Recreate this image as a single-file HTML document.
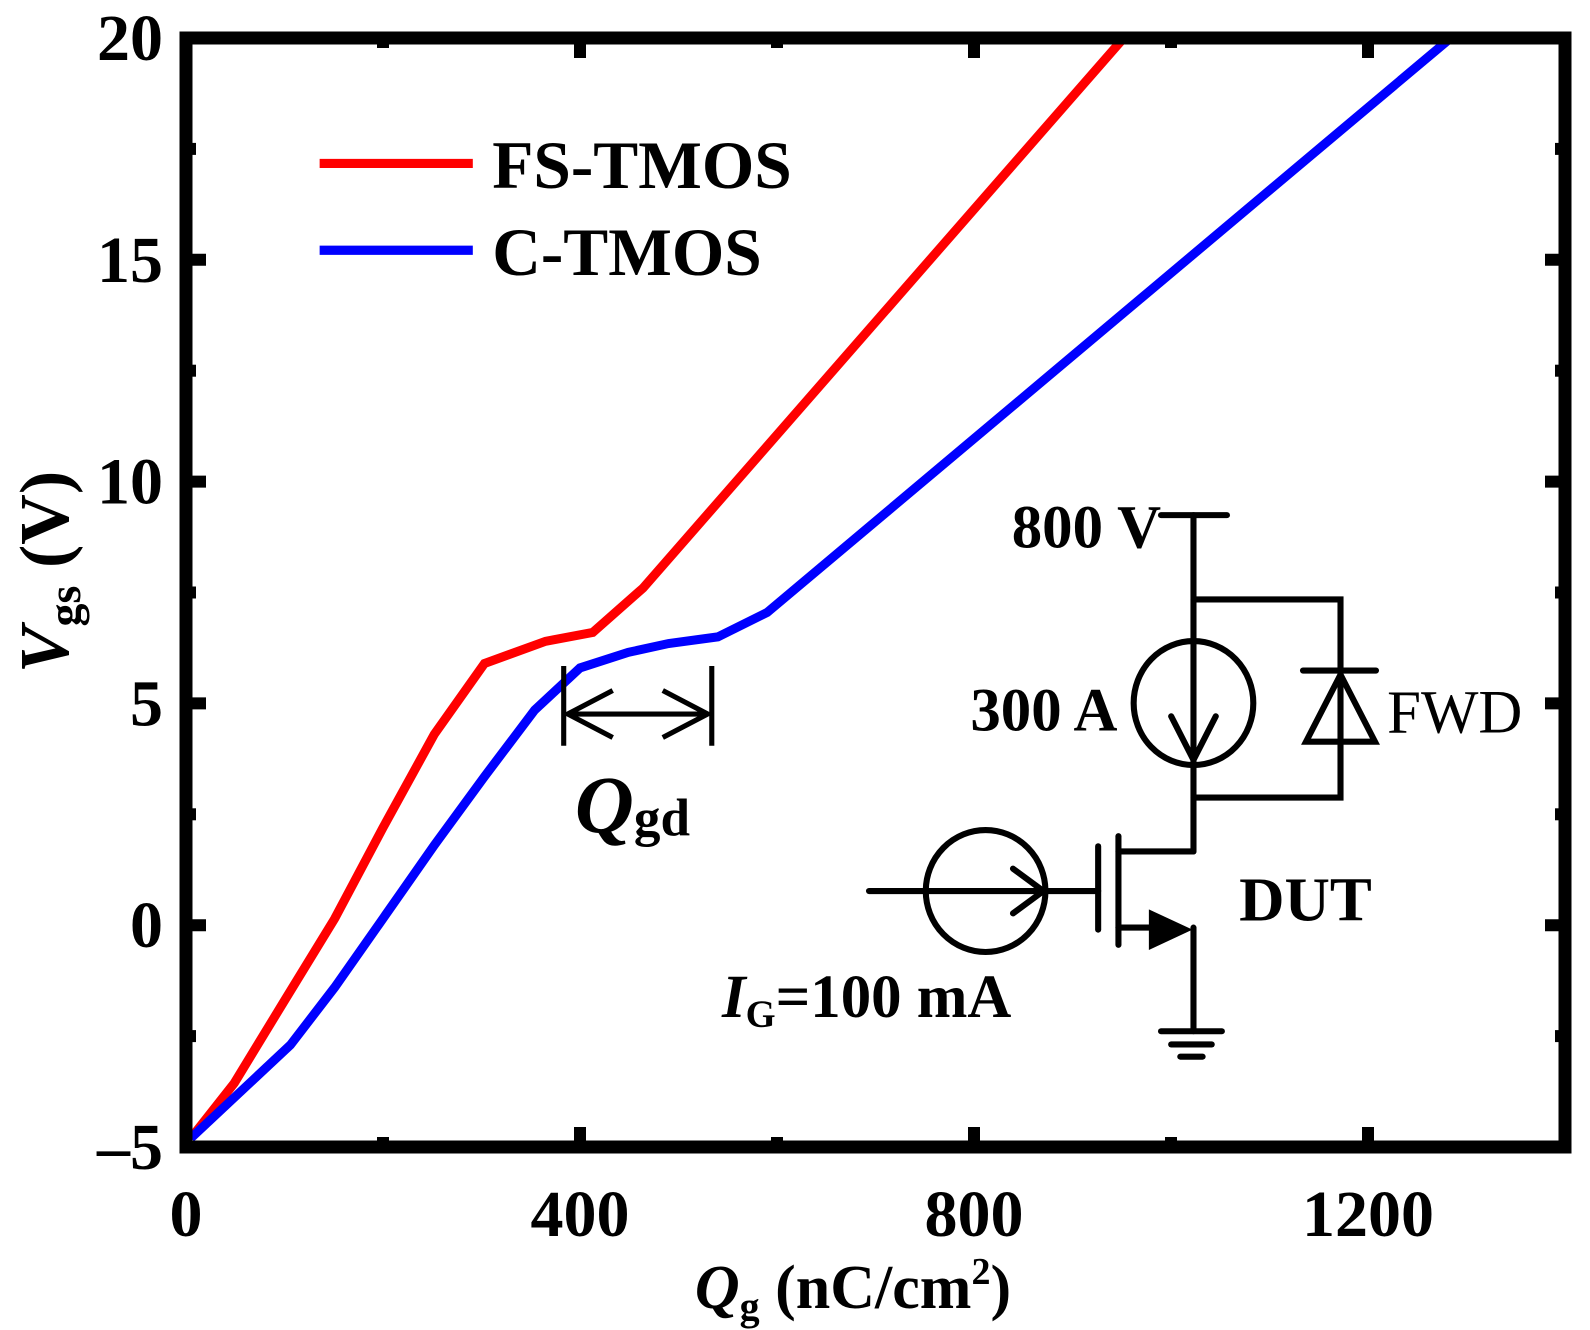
<!DOCTYPE html>
<html><head><meta charset="utf-8"><style>
html,body{margin:0;padding:0;background:#fff;}
svg{display:block;font-family:"Liberation Serif",serif;font-weight:bold;}
</style></head><body>
<svg id="chart" width="1590" height="1330" viewBox="0 0 1590 1330">
<g id="plot"></g>
<g transform="scale(1.0212,1.0215)">
  <line x1="313" y1="160" x2="463" y2="160" stroke="#ff0000" stroke-width="9"/>
  <text x="482" y="184" font-size="66">FS-TMOS</text>
  <line x1="313" y1="245" x2="463" y2="245" stroke="#0000ff" stroke-width="9"/>
  <text x="482" y="269" font-size="66">C-TMOS</text>
  <g stroke="#000" stroke-width="5" fill="none">
    <line x1="552" y1="652" x2="552" y2="730"/><line x1="697" y1="652" x2="697" y2="730"/>
    <line x1="556" y1="699" x2="693" y2="699"/>
    <polyline points="600,676 556,699 600,722"/><polyline points="649,676 693,699 649,722"/>
  </g>
  <text x="563" y="815" font-size="80" font-style="italic">Q<tspan font-size="52" font-style="normal" dy="3">gd</tspan></text>
</g>
<g transform="scale(1.014,1.016)">
  <g stroke="#000" stroke-width="6" fill="none" stroke-linecap="round">
    <line x1="1145" y1="507" x2="1210" y2="507"/>
    <line x1="1177" y1="507" x2="1177" y2="838"/>
    <polyline points="1177,590 1322,590 1322,785 1177,785"/>
    <ellipse cx="1177" cy="692" rx="59" ry="61"/>
    <polyline points="1155,705 1177,748 1199,705"/>
    <line x1="1285" y1="660" x2="1357" y2="660"/>
    <polygon points="1322,664 1288,730 1356,730"/>
    <line x1="1103" y1="838" x2="1177" y2="838"/>
    <line x1="1103" y1="823" x2="1103" y2="930"/>
    <line x1="1083" y1="833" x2="1083" y2="915"/>
    <line x1="857" y1="877" x2="1083" y2="877"/>
    <ellipse cx="972" cy="877" rx="59" ry="60"/>
    <polyline points="999,855 1029,877 999,899"/>
    <line x1="1103" y1="913" x2="1140" y2="913"/>
    <line x1="1177" y1="913" x2="1177" y2="1015"/>
    <line x1="1145" y1="1015" x2="1205" y2="1015"/>
    <line x1="1155" y1="1028" x2="1195" y2="1028"/>
    <line x1="1164" y1="1040" x2="1186" y2="1040"/>
  </g>
  <polygon points="1133,895 1133,935 1176,915" fill="#000"/>
  <text x="1145" y="539" font-size="60" text-anchor="end">800 V</text>
  <text x="1102" y="719" font-size="60" text-anchor="end">300 A</text>
  <text x="1368" y="721" font-size="60" font-weight="normal">FWD</text>
  <text x="1222" y="906" font-size="62">DUT</text>
  <text x="712" y="1001" font-size="60"><tspan font-style="italic">I</tspan><tspan font-size="38" dy="10">G</tspan><tspan dy="-10">=100 mA</tspan></text>
</g>
</svg>
<script>
const xTicks=[0,400,800,1200];
const yTicks=[-5,0,5,10,15,20];
const fsQ=[5,49,100,151,200,252,303,365,413,464,952];
const fsV=[-4.8,-3.56,-1.7,0.15,2.2,4.3,5.9,6.4,6.6,7.6,20];
const cQ=[5,106,151,200,252,303,354,400,449,490,540,590,1284];
const cV=[-4.8,-2.7,-1.4,0.15,1.8,3.35,4.85,5.8,6.15,6.35,6.5,7.05,20];
const L=186,R=1565,T=38,B=1147,XMAX=1400,YMIN=-5,YMAX=20;
const sx=v=>L+(v/XMAX)*(R-L);
const sy=v=>B-(v-YMIN)/(YMAX-YMIN)*(B-T);
const NS='http://www.w3.org/2000/svg';
const g=document.getElementById('plot');
function mk(t,a){const e=document.createElementNS(NS,t);for(const k in a)e.setAttribute(k,a[k]);g.appendChild(e);return e;}
const cp=document.createElementNS(NS,'clipPath');cp.id='clip';
const cr=document.createElementNS(NS,'rect');cr.setAttribute('x',L);cr.setAttribute('y',T);cr.setAttribute('width',R-L);cr.setAttribute('height',B-T);
cp.appendChild(cr);g.appendChild(cp);
function series(q,v,c,n){
  const p=mk('polyline',{points:q.map((x,i)=>sx(x)+','+sy(v[i])).join(' '),fill:'none',stroke:c,'stroke-width':9,'clip-path':'url(#clip)'});
  
  
}
series(fsQ,fsV,'#ff0000','fs-tmos-line');
series(cQ,cV,'#0000ff','c-tmos-line');
for(let v=0;v<=XMAX;v+=200){
  const len=(v%400===0)?20:10;
  let t=mk('line',{x1:sx(v),x2:sx(v),y1:B,y2:B-len,stroke:'#000','stroke-width':12});
  
  
  t=mk('line',{x1:sx(v),x2:sx(v),y1:T,y2:T+len,stroke:'#000','stroke-width':12});
  
  
}
for(let v=YMIN;v<=YMAX;v+=2.5){
  const len=(v%5===0)?20:10;
  let t=mk('line',{x1:L,x2:L+len,y1:sy(v),y2:sy(v),stroke:'#000','stroke-width':12});
  
  
  t=mk('line',{x1:R,x2:R-len,y1:sy(v),y2:sy(v),stroke:'#000','stroke-width':12});
  
  
}
const fr=mk('rect',{x:L,y:T,width:R-L,height:B-T,fill:'none',stroke:'#000','stroke-width':13});


xTicks.forEach(v=>{
  const t=mk('text',{x:sx(v),y:1236,'font-size':66,'text-anchor':'middle'});t.textContent=v;
  
  
});
yTicks.forEach(v=>{
  const t=mk('text',{x:163,y:sy(v)+22,'font-size':66,'text-anchor':'end'});t.textContent=v<0?'\u2013'+Math.abs(v):v;
  
  
});
const xt=mk('text',{x:853,y:1308,'font-size':62,'text-anchor':'middle'});
xt.innerHTML='<tspan font-style="italic">Q</tspan><tspan font-size="40" dy="12">g</tspan><tspan dy="-12"> (nC/cm</tspan><tspan font-size="38" dy="-24">2</tspan><tspan dy="24">)</tspan>';


const yt=mk('text',{x:0,y:0,'font-size':70,'text-anchor':'middle',transform:'translate(68,572) rotate(-90)'});
yt.innerHTML='<tspan font-style="italic">V</tspan><tspan font-size="46" dy="12">gs</tspan><tspan dy="-12"> (V)</tspan>';


</script>
</body></html>
